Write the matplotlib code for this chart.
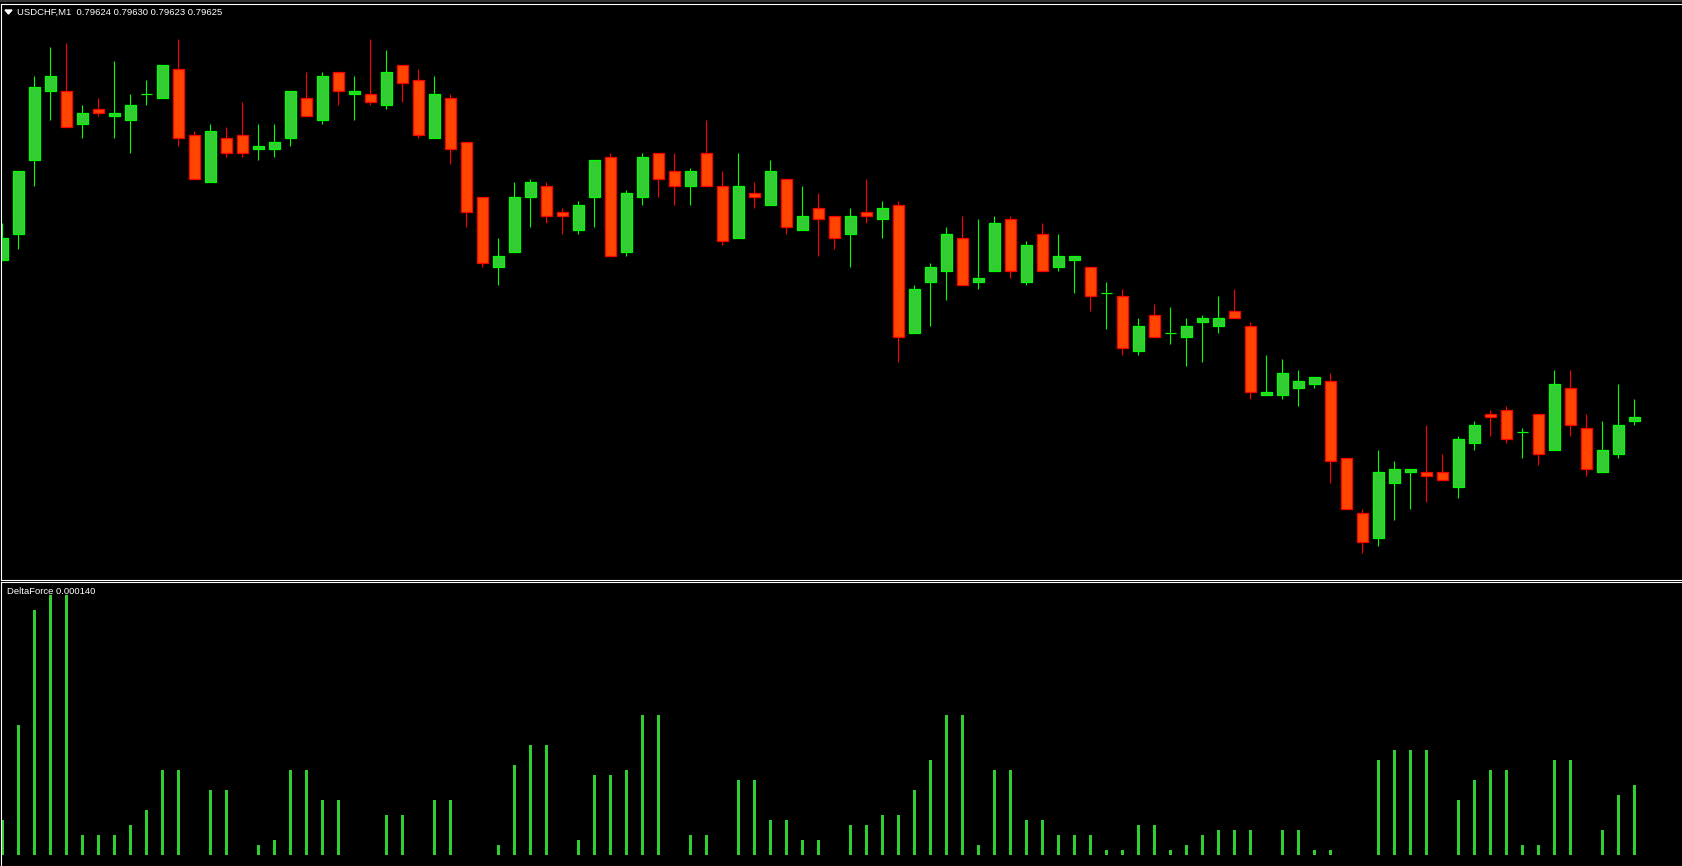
import numpy as np
import matplotlib.pyplot as plt
from matplotlib.lines import Line2D
from matplotlib.patches import Polygon

# --- DATA (USDCHF M1) ---
symbol = 'USDCHF,M1'
indicator_name = 'DeltaForce'

opens = [0.79668, 0.79675, 0.79695, 0.79714, 0.79714, 0.79705, 0.79709, 0.79707, 0.79706, 0.79713,
         0.79712, 0.79720, 0.79702, 0.79689, 0.79701, 0.79702, 0.79698, 0.79698, 0.79701, 0.79712,
         0.79706, 0.79719, 0.79713, 0.79713, 0.79710, 0.79721, 0.79717, 0.79701, 0.79712, 0.79700,
         0.79685, 0.79666, 0.79670, 0.79685, 0.79688, 0.79681, 0.79676, 0.79685, 0.79696, 0.79670,
         0.79685, 0.79697, 0.79692, 0.79688, 0.79697, 0.79688, 0.79674, 0.79686, 0.79683, 0.79690,
         0.79676, 0.79682, 0.79680, 0.79675, 0.79681, 0.79679, 0.79683, 0.79648, 0.79662, 0.79665,
         0.79674, 0.79662, 0.79665, 0.79679, 0.79662, 0.79675, 0.79666, 0.79668, 0.79666, 0.79659,
         0.79658, 0.79643, 0.79653, 0.79648, 0.79647, 0.79651, 0.79650, 0.79654, 0.79650, 0.79631,
         0.79631, 0.79633, 0.79634, 0.79635, 0.79614, 0.79599, 0.79592, 0.79607, 0.79610, 0.79610,
         0.79610, 0.79606, 0.79618, 0.79626, 0.79627, 0.79621, 0.79626, 0.79616, 0.79633, 0.79622,
         0.79610, 0.79615, 0.79624]
highs = [0.79678, 0.79692, 0.79718, 0.79726, 0.79727, 0.79710, 0.79712, 0.79722, 0.79713, 0.79717,
         0.79721, 0.79728, 0.79703, 0.79705, 0.79704, 0.79711, 0.79705, 0.79705, 0.79714, 0.79719,
         0.79719, 0.79719, 0.79718, 0.79728, 0.79725, 0.79721, 0.79720, 0.79718, 0.79713, 0.79700,
         0.79685, 0.79674, 0.79689, 0.79690, 0.79689, 0.79682, 0.79684, 0.79695, 0.79697, 0.79687,
         0.79697, 0.79697, 0.79697, 0.79693, 0.79706, 0.79692, 0.79697, 0.79689, 0.79695, 0.79690,
         0.79688, 0.79686, 0.79680, 0.79682, 0.79690, 0.79684, 0.79684, 0.79661, 0.79667, 0.79677,
         0.79680, 0.79679, 0.79680, 0.79680, 0.79673, 0.79678, 0.79675, 0.79669, 0.79666, 0.79662,
         0.79660, 0.79652, 0.79656, 0.79655, 0.79652, 0.79653, 0.79658, 0.79660, 0.79651, 0.79642,
         0.79641, 0.79638, 0.79636, 0.79637, 0.79614, 0.79600, 0.79616, 0.79613, 0.79611, 0.79623,
         0.79615, 0.79620, 0.79624, 0.79627, 0.79628, 0.79622, 0.79626, 0.79638, 0.79638, 0.79626,
         0.79624, 0.79634, 0.79630]
lows = [0.79668, 0.79671, 0.79688, 0.79706, 0.79704, 0.79701, 0.79707, 0.79701, 0.79697, 0.79710,
        0.79712, 0.79699, 0.79690, 0.79689, 0.79696, 0.79696, 0.79695, 0.79696, 0.79699, 0.79707,
        0.79705, 0.79710, 0.79706, 0.79710, 0.79709, 0.79711, 0.79701, 0.79701, 0.79694, 0.79677,
        0.79666, 0.79661, 0.79670, 0.79677, 0.79678, 0.79675, 0.79675, 0.79677, 0.79669, 0.79669,
        0.79683, 0.79685, 0.79683, 0.79683, 0.79688, 0.79672, 0.79674, 0.79682, 0.79683, 0.79675,
        0.79676, 0.79669, 0.79671, 0.79666, 0.79678, 0.79674, 0.79640, 0.79648, 0.79650, 0.79657,
        0.79661, 0.79660, 0.79665, 0.79663, 0.79661, 0.79665, 0.79665, 0.79659, 0.79654, 0.79649,
        0.79642, 0.79642, 0.79647, 0.79645, 0.79639, 0.79640, 0.79648, 0.79652, 0.79630, 0.79631,
        0.79630, 0.79628, 0.79633, 0.79607, 0.79600, 0.79588, 0.79590, 0.79597, 0.79600, 0.79602,
        0.79608, 0.79603, 0.79616, 0.79620, 0.79618, 0.79614, 0.79612, 0.79616, 0.79620, 0.79609,
        0.79610, 0.79614, 0.79623]
closes = [0.79674, 0.79692, 0.79715, 0.79718, 0.79704, 0.79708, 0.79708, 0.79708, 0.79710, 0.79713,
          0.79721, 0.79701, 0.79690, 0.79703, 0.79697, 0.79697, 0.79699, 0.79700, 0.79714, 0.79707,
          0.79718, 0.79714, 0.79714, 0.79711, 0.79719, 0.79716, 0.79702, 0.79713, 0.79698, 0.79681,
          0.79667, 0.79669, 0.79685, 0.79689, 0.79680, 0.79680, 0.79683, 0.79695, 0.79669, 0.79686,
          0.79696, 0.79690, 0.79688, 0.79692, 0.79688, 0.79673, 0.79688, 0.79685, 0.79692, 0.79677,
          0.79680, 0.79679, 0.79674, 0.79680, 0.79680, 0.79682, 0.79647, 0.79660, 0.79666, 0.79675,
          0.79661, 0.79663, 0.79678, 0.79665, 0.79672, 0.79665, 0.79669, 0.79669, 0.79658, 0.79659,
          0.79644, 0.79650, 0.79647, 0.79648, 0.79650, 0.79652, 0.79652, 0.79652, 0.79632, 0.79632,
          0.79637, 0.79635, 0.79636, 0.79613, 0.79600, 0.79591, 0.79610, 0.79611, 0.79611, 0.79609,
          0.79608, 0.79619, 0.79623, 0.79625, 0.79619, 0.79621, 0.79615, 0.79634, 0.79623, 0.79611,
          0.79616, 0.79623, 0.79625]

delta_force = [0.00007, 0.00026, 0.00049, 0.00052, 0.00052, 0.00004, 0.00004, 0.00004, 0.00006, 0.00009,
               0.00017, 0.00017, 0.0, 0.00013, 0.00013, 0.0, 0.00002, 0.00003, 0.00017, 0.00017,
               0.00011, 0.00011, 0.0, 0.0, 0.00008, 0.00008, 0.0, 0.00011, 0.00011, 0.0,
               0.0, 0.00002, 0.00018, 0.00022, 0.00022, 0.0, 0.00003, 0.00016, 0.00016, 0.00017,
               0.00028, 0.00028, 0.0, 0.00004, 0.00004, 0.0, 0.00015, 0.00015, 0.00007, 0.00007,
               0.00003, 0.00003, 0.0, 0.00006, 0.00006, 0.00008, 0.00008, 0.00013, 0.00019, 0.00028,
               0.00028, 0.00002, 0.00017, 0.00017, 0.00007, 0.00007, 0.00004, 0.00004, 0.00004, 0.00001,
               0.00001, 0.00006, 0.00006, 0.00001, 0.00002, 0.00004, 0.00005, 0.00005, 0.00005, 0.0,
               0.00005, 0.00005, 0.00001, 0.00001, 0.0, 0.0, 0.00019, 0.00021, 0.00021, 0.00021,
               0.0, 0.00011, 0.00015, 0.00017, 0.00017, 0.00002, 0.00002, 0.00019, 0.00019, 0.0,
               0.00005, 0.00012, 0.00014]

# --- COLOURS (MT4 green-on-black) ---
BULL_BODY, BULL_LINE = '#32CD32', '#00FF00'
BEAR_BODY, BEAR_LINE = '#FF4500', '#FF0000'
HIST = '#32CD32'

W, H = 1683, 866
fig = plt.figure(figsize=(W / 100, H / 100), dpi=100, facecolor='black')


def px_axes(left, top, right, bottom):
    # axes placed by pixel edges of the terminal window
    return fig.add_axes([left / W, 1 - bottom / H, (right - left) / W, (bottom - top) / H])


ax = px_axes(1.5, 3.5, W, 579.5)
ind = px_axes(1.5, 581.5, W, H)

o = np.array(opens)
h = np.array(highs)
l = np.array(lows)
c = np.array(closes)
x = np.arange(len(o))
up = c >= o
body_col = np.where(up, BULL_BODY, BEAR_BODY)
line_col = np.where(up, BULL_LINE, BEAR_LINE)

# candles: wicks then bodies
ax.vlines(x, l, h, colors=line_col, linewidth=0.8, zorder=1)
ax.bar(x, np.abs(c - o), bottom=np.minimum(o, c), width=0.69,
       color=body_col, edgecolor=line_col, linewidth=0.9, zorder=2)

# indicator histogram
ind.bar(x, delta_force, width=0.19, color=HIST, linewidth=0)

# bar spacing 16 px, first bar centred at x=2.4 px
xlim = ((1.5 - 2.4) / 16, (W - 2.4) / 16)
ax.set_xlim(*xlim)
ind.set_xlim(*xlim)
ax.set_ylim(0.7958082, 0.7973777)
ind.set_ylim(-0.000022, 0.000547)

for a in (ax, ind):
    a.set_facecolor('black')
    a.set_xticks([])
    a.set_yticks([])
    for side in ('top', 'left'):
        a.spines[side].set_color('white')
        a.spines[side].set_linewidth(0.8)
    a.spines['right'].set_visible(False)
ax.spines['bottom'].set_color('white')
ax.spines['bottom'].set_linewidth(0.8)
ind.spines['bottom'].set_visible(False)

# window frame line at the very top
fig.add_artist(Line2D([0, 1], [1 - 0.7 / H] * 2, color='#404040', linewidth=1.2,
                      transform=fig.transFigure))

# header texts
fig.patches.append(Polygon([[5 / W, 1 - 10 / H], [12 / W, 1 - 10 / H], [8.5 / W, 1 - 14 / H]],
                           closed=True, color='white', transform=fig.transFigure))
fig.text(17.3 / W, 1 - 15.3 / H,
         f"{symbol}  {o[-1]:.5f} {h[-1]:.5f} {l[-1]:.5f} {c[-1]:.5f}",
         color='white', fontsize=6.8, family='Liberation Sans', va='baseline')
fig.text(6.7 / W, 1 - 594 / H, f"{indicator_name} {delta_force[-1]:.6f}",
         color='white', fontsize=6.8, family='Liberation Sans', va='baseline')

fig.savefig('out.png', dpi=100, facecolor='black')
